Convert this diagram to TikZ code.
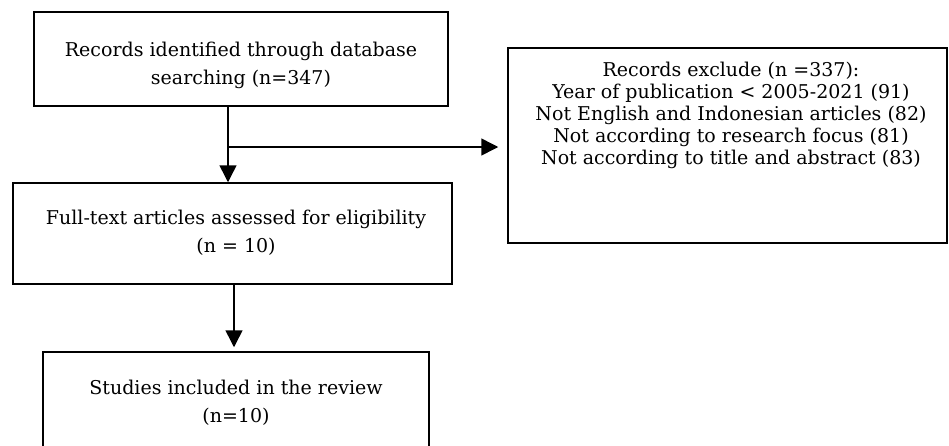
\documentclass[tikz,border=0pt]{standalone}
\usepackage{fontspec}
\setmainfont{DejaVu Serif}
\usetikzlibrary{arrows.meta,calc}
\begin{document}
\begin{tikzpicture}[x=1pt,y=-1pt,
  box/.style={draw,line width=1.5pt,inner sep=0pt},
  txt/.style={align=center,font=\fontsize{19}{28}\selectfont,inner sep=0pt},
  txtb/.style={align=center,font=\fontsize{19}{22}\selectfont,inner sep=0pt},
  arr/.style={line width=1.5pt,-{Triangle[length=17pt,width=17pt]}}]
\useasboundingbox (0,0) rectangle (949,445);
\begin{scope}
\clip (0,0) rectangle (949,445);
\node[box,minimum width=414pt,minimum height=94pt] (b1) at (241,59) {};
\node[txt] (t1) at (241,65) {Records identified through database\\searching (n=347)};
\node[box,minimum width=439pt,minimum height=101pt] (b2) at (232.5,233.5) {};
\node[txt] (t2) at (236,233) {Full-text articles assessed for eligibility\\(n = 10)};
\node[box,minimum width=386pt,minimum height=120pt] (b3) at (236,412) {};
\node[txt] (t3) at (236,403) {Studies included in the review\\(n=10)};
\node[box,minimum width=439pt,minimum height=195pt] (b4) at (727.5,145.5) {};
\node[txtb] (t4) at (731,115) {Records exclude (n =337):\\Year of publication < 2005-2021 (91)\\Not English and Indonesian articles (82)\\Not according to research focus (81)\\Not according to title and abstract (83)};
\coordinate (j) at (228,147);
\coordinate (k) at (234,300);
\draw[arr] (b1.south -| j) -- (b2.north -| j);
\draw[arr,shorten >=9pt] (j) -- (b4.west |- j);
\draw[arr,shorten >=4pt] (b2.south -| k) -- (b3.north -| k);
\end{scope}
\end{tikzpicture}
\end{document}
